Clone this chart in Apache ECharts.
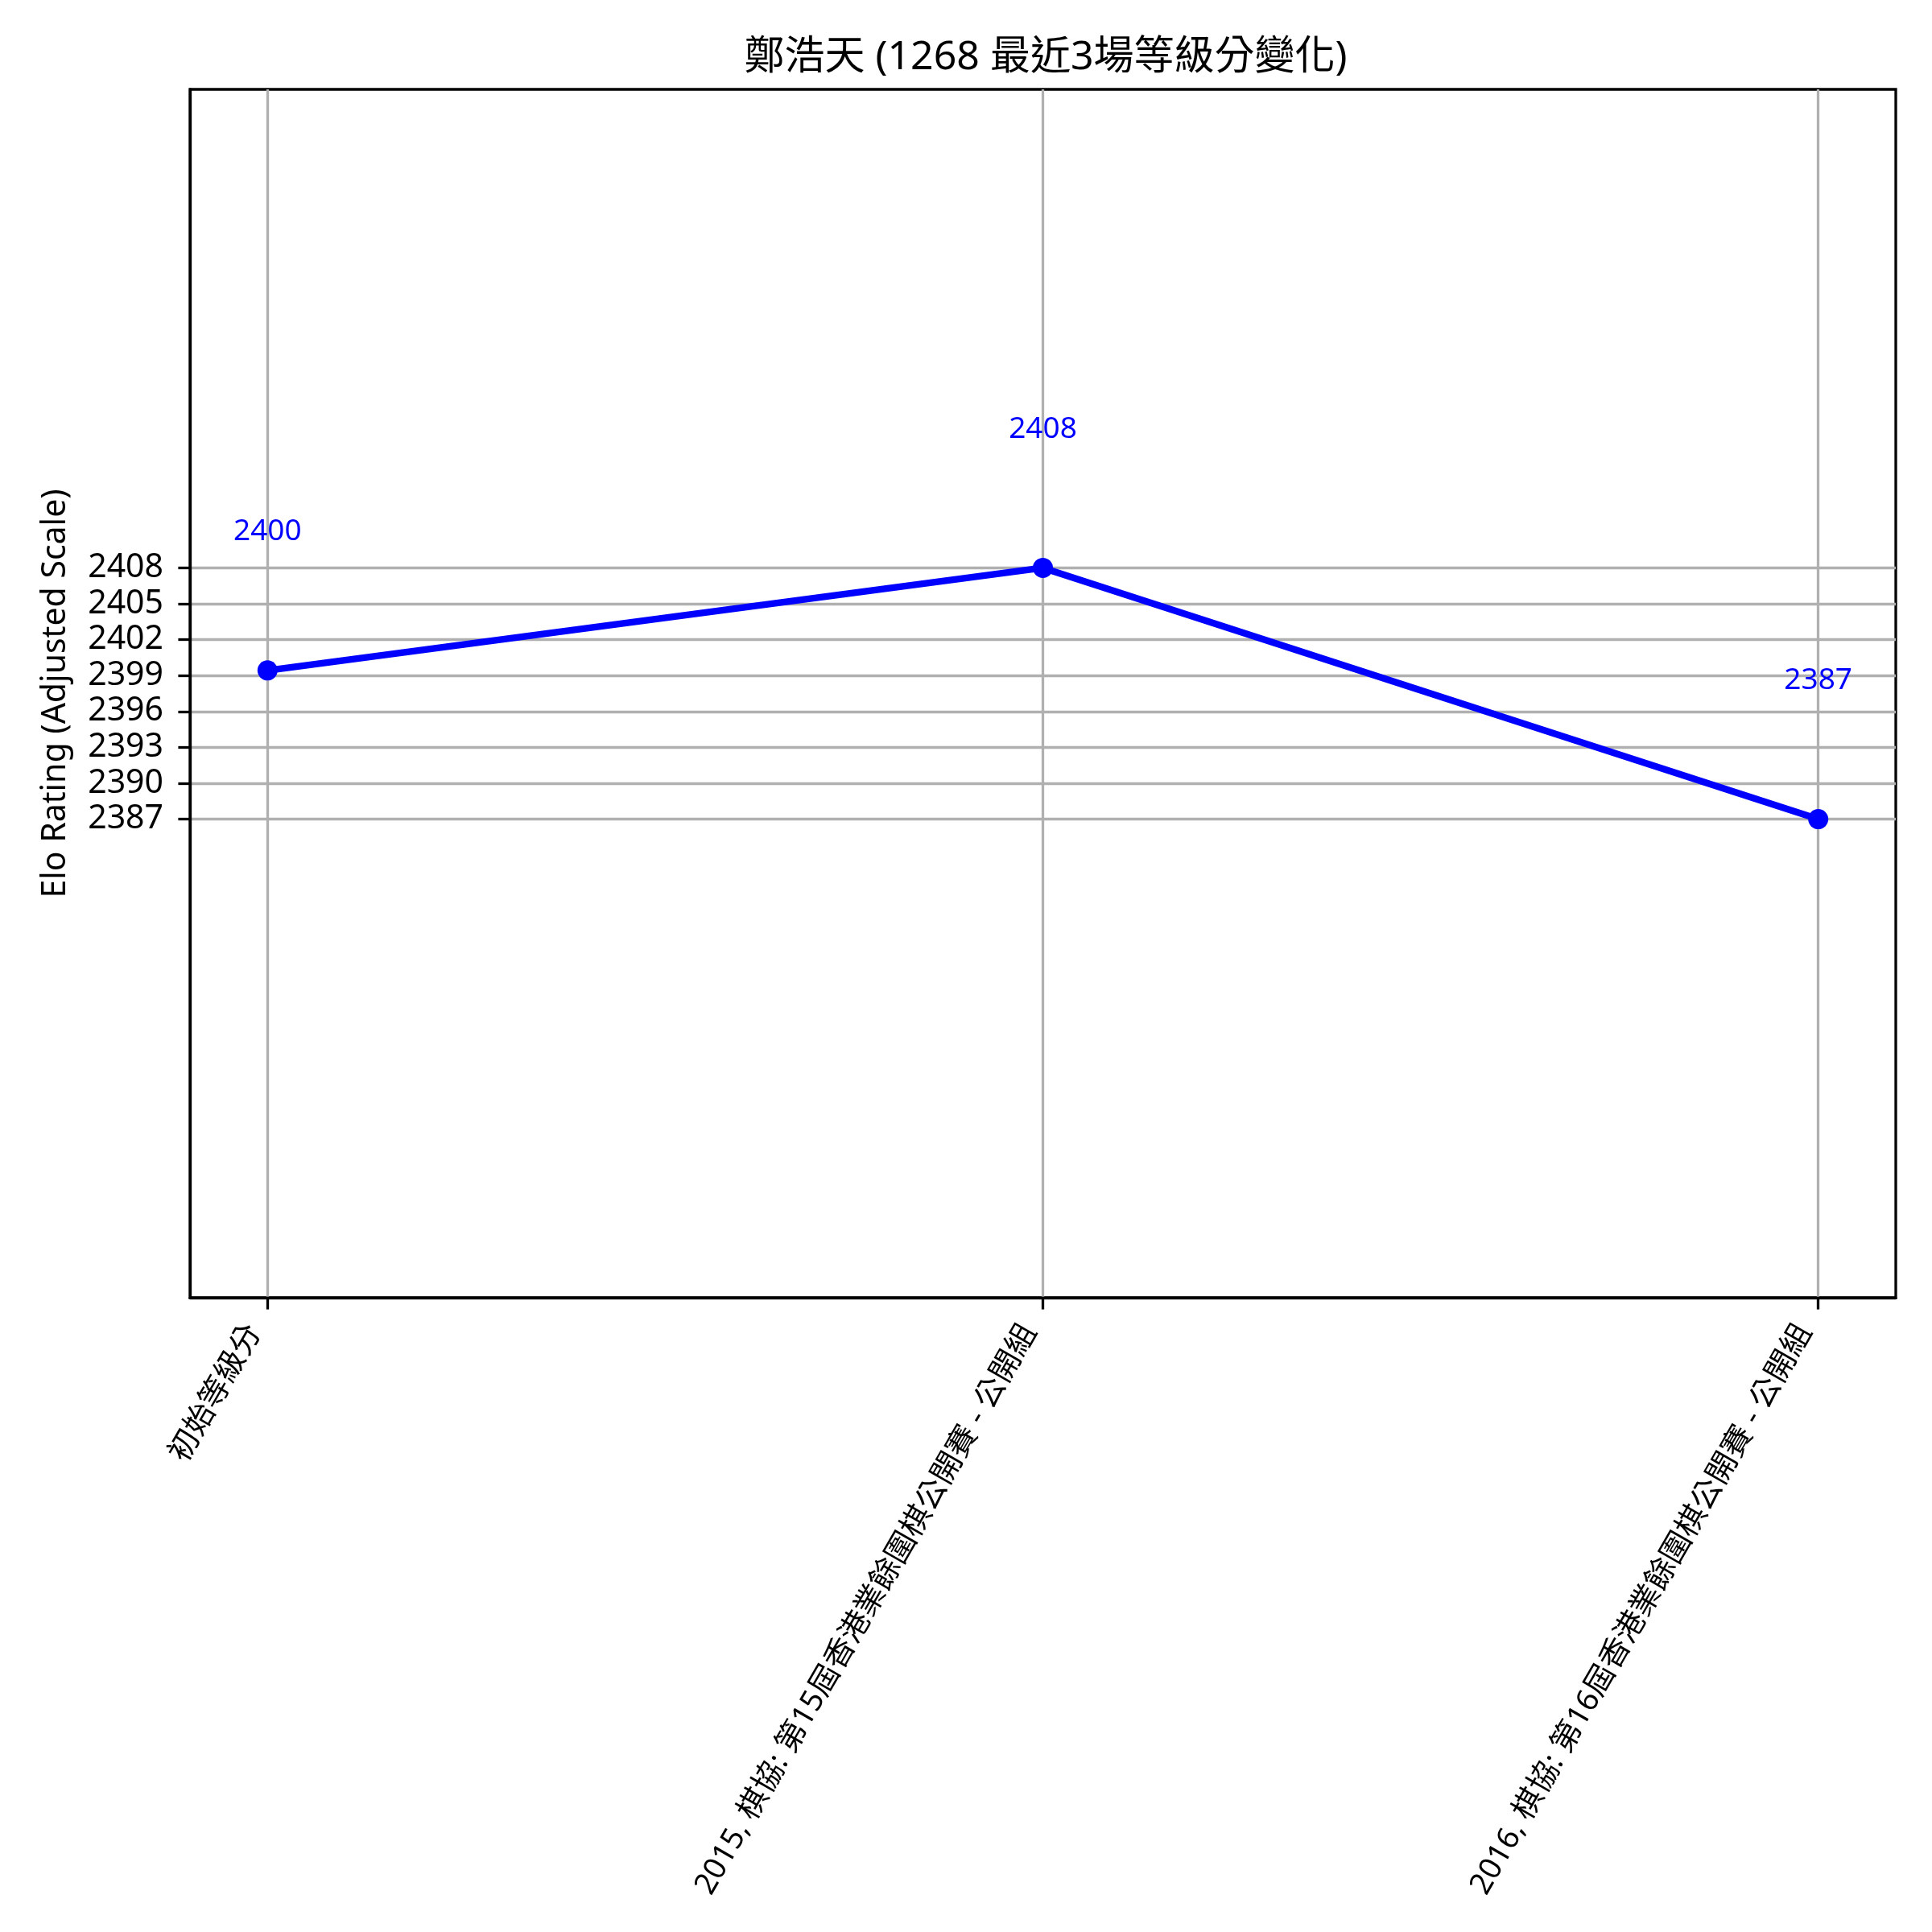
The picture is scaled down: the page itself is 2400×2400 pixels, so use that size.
<!DOCTYPE html>
<html>
<head>
<meta charset="utf-8">
<script src="https://cdn.jsdelivr.net/npm/echarts@6/dist/echarts.min.js"></script>
<style>
html,body{margin:0;padding:0;background:#fff;}
#chart{width:2400px;height:2400px;}
</style>
</head>
<body>
<div id="chart"></div>
<script>
const titleText = '鄭浩天 (1268 最近3場等級分變化)';
const yAxisName = 'Elo Rating (Adjusted Scale)';
const categories = [
  '初始等級分',
  '2015, 棋協: 第15屆香港業餘圍棋公開賽 - 公開組',
  '2016, 棋協: 第16屆香港業餘圍棋公開賽 - 公開組'
];
const ratings = [2400, 2408.57, 2387.57];
const yTicks = [2387.57, 2390.57, 2393.57, 2396.57, 2399.57, 2402.57, 2405.57, 2408.57];
const xTicks = [0, 1, 2];

const FONT = '"Noto Sans", "Noto Sans CJK TC", sans-serif';
const pad = 40;
const yMin = Math.min(...ratings) - pad;
const yMax = Math.max(...ratings) + pad;
const seriesData = ratings.map((v, i) => [xTicks[i], v]);

const chart = echarts.init(document.getElementById('chart'), null, {renderer: 'canvas'});
chart.setOption({
  animation: false,
  backgroundColor: '#ffffff',
  title: {
    text: titleText,
    left: 1294, top: 42, textAlign: 'center',
    textStyle: {fontFamily: FONT, fontSize: 50, fontWeight: 'normal', color: '#000'}
  },
  grid: {
    left: 236, right: 45, top: 111, bottom: 788,
    show: true, borderColor: '#000', borderWidth: 3.3, backgroundColor: 'transparent'
  },
  xAxis: {
    type: 'value', min: -0.1, max: 2.1,
    axisLine: {show: true, onZero: false, lineStyle: {color: '#000', width: 3.3}},
    axisTick: {show: true, customValues: xTicks, length: 14.6, lineStyle: {color: '#000', width: 3.3}},
    axisLabel: {
      show: true, customValues: xTicks, rotate: 60, margin: 46,
      verticalAlign: 'bottom',
      fontFamily: FONT, fontSize: 38, color: '#000',
      formatter: (v) => categories[Math.round(v)]
    },
    splitLine: {show: true, lineStyle: {color: '#b0b0b0', width: 3.3}}
  },
  yAxis: {
    type: 'value', min: yMin, max: yMax,
    name: yAxisName, nameLocation: 'middle', nameGap: 146,
    nameTextStyle: {fontFamily: FONT, fontSize: 41, color: '#000'},
    axisLine: {show: true, onZero: false, lineStyle: {color: '#000', width: 3.3}},
    axisTick: {show: true, customValues: yTicks, length: 14.6, lineStyle: {color: '#000', width: 3.3}},
    axisLabel: {
      show: true, customValues: yTicks, margin: 33,
      fontFamily: FONT, fontSize: 41, color: '#000',
      formatter: (v) => String(Math.floor(v))
    },
    splitLine: {show: true, lineStyle: {color: '#b0b0b0', width: 3.3}}
  },
  series: [{
    type: 'line',
    data: seriesData,
    symbol: 'circle', symbolSize: 25,
    lineStyle: {color: '#0000ff', width: 8.3},
    itemStyle: {color: '#0000ff'},
    label: {
      show: true, position: 'inside', offset: [0, -172],
      fontFamily: FONT, fontSize: 37, color: '#0000ff',
      formatter: (p) => String(Math.floor(p.value[1]))
    },
    emphasis: {disabled: true}
  }]
});
</script>
</body>
</html>
